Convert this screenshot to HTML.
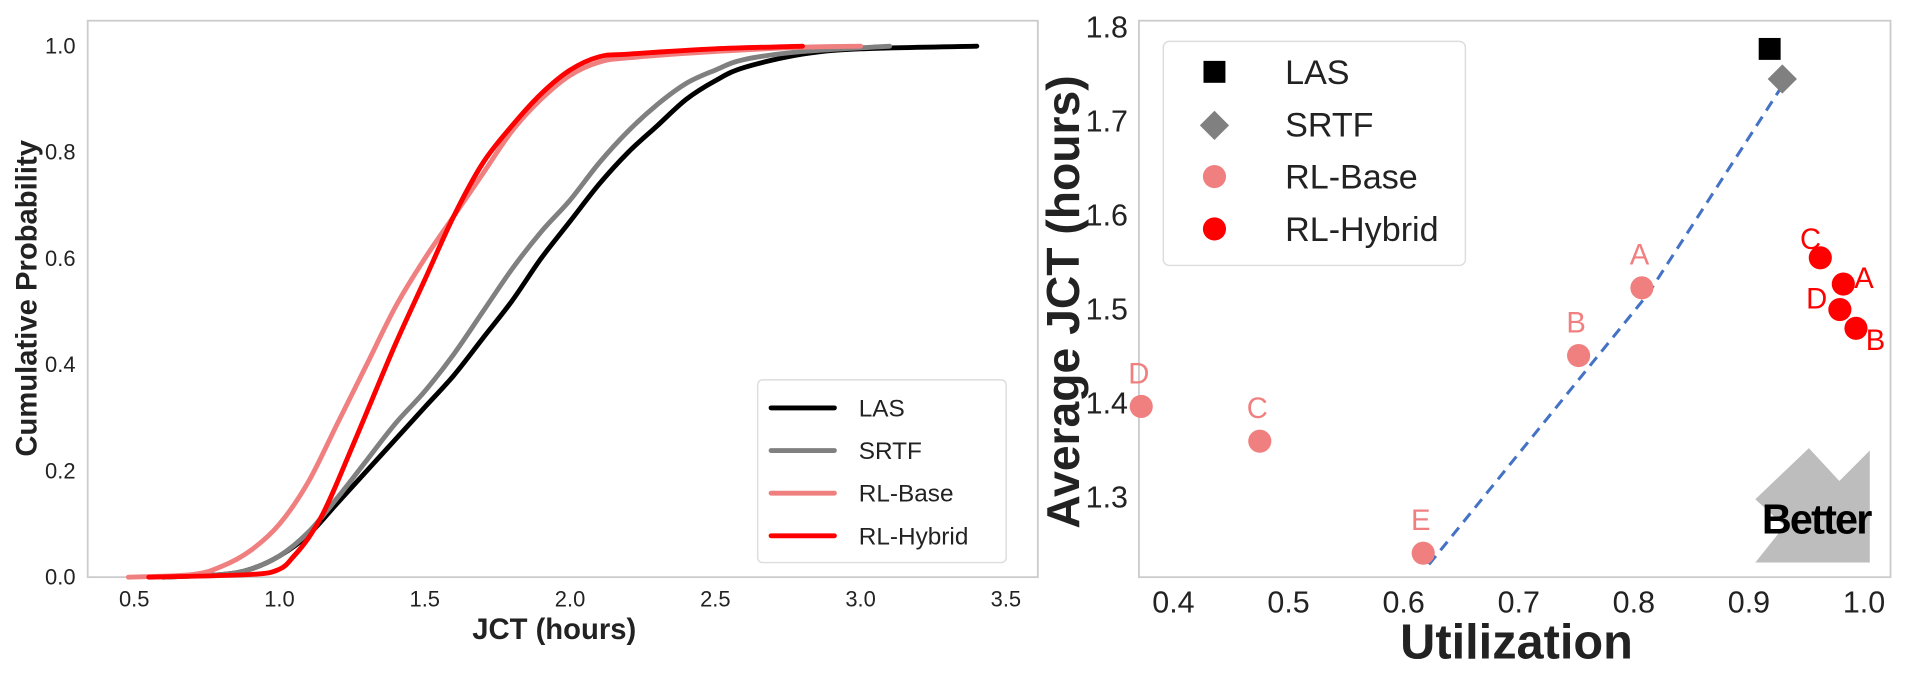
<!DOCTYPE html>
<html><head><meta charset="utf-8"><style>
body{margin:0;background:#fff;}
svg{display:block;font-family:"Liberation Sans",sans-serif;}
</style></head><body>
<svg id="c" width="1910" height="677" viewBox="0 0 1568 556" preserveAspectRatio="none"></svg>
<script>
const cdfSeries=["LAS","SRTF","RL-Base","RL-Hybrid"];
const lasX=[0.6,0.8,0.9,1.0,1.1,1.2,1.3,1.4,1.5,1.6,1.7,1.8,1.9,2.0,2.1,2.2,2.3,2.4,2.5,2.6,2.8,3.0,3.4];
const lasY=[0,0.005,0.015,0.04,0.08,0.14,0.2,0.26,0.32,0.38,0.45,0.52,0.6,0.67,0.74,0.8,0.85,0.9,0.935,0.96,0.985,0.995,1.0];
const srtfX=[0.6,0.8,0.9,1.0,1.1,1.2,1.3,1.4,1.5,1.6,1.7,1.8,1.9,2.0,2.1,2.2,2.3,2.4,2.5,2.6,2.8,3.1];
const srtfY=[0,0.005,0.015,0.04,0.085,0.15,0.22,0.29,0.35,0.42,0.5,0.58,0.65,0.71,0.78,0.84,0.89,0.93,0.955,0.975,0.99,1.0];
const baseX=[0.48,0.7,0.8,0.9,1.0,1.1,1.2,1.3,1.4,1.5,1.6,1.7,1.8,1.9,2.0,2.1,2.2,2.5,2.8,3.0];
const baseY=[0,0.005,0.02,0.05,0.1,0.18,0.29,0.4,0.51,0.6,0.68,0.76,0.84,0.9,0.945,0.97,0.978,0.99,0.998,1.0];
const hybX=[0.55,0.9,1.0,1.05,1.1,1.15,1.2,1.3,1.4,1.5,1.6,1.7,1.8,1.9,2.0,2.1,2.2,2.5,2.8];
const hybY=[0,0.005,0.015,0.04,0.074,0.12,0.18,0.31,0.44,0.56,0.68,0.78,0.85,0.91,0.955,0.98,0.985,0.995,1.0];
const cdfXTicks=[0.5,1.0,1.5,2.0,2.5,3.0,3.5];
const cdfYTicks=[0.0,0.2,0.4,0.6,0.8,1.0];
const sc={LAS:[[0.918,1.776]],SRTF:[[0.929,1.744]]};
const baseU=[0.372,0.475,0.617,0.752,0.807];
const baseJ=[1.396,1.359,1.240,1.450,1.522];
const baseL=["D","C","E","B","A"];
const hybU=[0.962,0.982,0.979,0.993];
const hybJ=[1.554,1.526,1.499,1.479];
const hybL=["C","A","D","B"];
const frontU=[0.622,0.812,0.928];
const frontJ=[1.228,1.515,1.735];
const scXTicks=[0.4,0.5,0.6,0.7,0.8,0.9,1.0];
const scYTicks=[1.3,1.4,1.5,1.6,1.7,1.8];

const NS="http://www.w3.org/2000/svg";
const svg=document.getElementById('c');
function mk(tag,at,parent,txt){const e=document.createElementNS(NS,tag);for(const k in at)e.setAttribute(k,at[k]);if(txt!==undefined)e.textContent=txt;(parent||svg).appendChild(e);return e;}

const L={x0:72,x1:852,y0:17,y1:474,dx0:0.34,dx1:3.61,dy0:0,dy1:1.048};
const lx=v=>L.x0+(v-L.dx0)/(L.dx1-L.dx0)*(L.x1-L.x0);
const ly=v=>L.y1-(v-L.dy0)/(L.dy1-L.dy0)*(L.y1-L.y0);
let g=mk('g',{});

let r=mk('rect',{x:L.x0,y:L.y0,width:L.x1-L.x0,height:L.y1-L.y0,fill:'none',stroke:'#ccc','stroke-width':1.5},g);

cdfXTicks.forEach(t=>{const e=mk('text',{x:lx(t),y:498,'text-anchor':'middle','font-size':18,fill:'#222'},g,t.toFixed(1));
});
cdfYTicks.forEach(t=>{const e=mk('text',{x:62,y:ly(t)+6,'text-anchor':'end','font-size':18,fill:'#222'},g,t.toFixed(1));
});
let t1=mk('text',{x:455,y:525,'text-anchor':'middle','font-size':24,'font-weight':'bold',fill:'#222'},g,'JCT (hours)');

let t2=mk('text',{x:0,y:0,transform:'translate(30,245) rotate(-90)','text-anchor':'middle','font-size':24,'font-weight':'bold',fill:'#222'},g,'Cumulative Probability');

const cols=['#000','#808080','#f08080','#ff0000'];
const xs=[lasX,srtfX,baseX,hybX],ys=[lasY,srtfY,baseY,hybY];
function smooth(pts){let d='M'+pts[0][0]+','+pts[0][1];for(let i=0;i<pts.length-1;i++){const p0=pts[Math.max(0,i-1)],p1=pts[i],p2=pts[i+1],p3=pts[Math.min(pts.length-1,i+2)];
const c1=[p1[0]+(p2[0]-p0[0])/6,p1[1]+(p2[1]-p0[1])/6],c2=[p2[0]-(p3[0]-p1[0])/6,p2[1]-(p3[1]-p1[1])/6];d+=' C'+c1+' '+c2+' '+p2;}return d;}
[0,1,2,3].forEach(i=>{const pts=xs[i].map((v,j)=>[lx(v),ly(ys[i][j])]);
const p=mk('path',{d:smooth(pts),fill:'none',stroke:cols[i],'stroke-width':4,'stroke-linecap':'round','stroke-linejoin':'round'},g);
});
let lg=mk('g',{},g);
mk('rect',{x:622,y:312,width:204,height:150,rx:4,fill:'#fff',stroke:'#ddd','stroke-width':1.2},lg);
cdfSeries.forEach((s,i)=>{const y=335+i*35;
mk('line',{x1:633,x2:685,y1:y,y2:y,stroke:cols[i],'stroke-width':4,'stroke-linecap':'round'},lg);
const e=mk('text',{x:705,y:y+7,'font-size':20,fill:'#222'},lg,s);
});

const R={x0:935,x1:1552,y0:17,y1:474,dx0:0.370,dx1:1.023,dy0:1.2145,dy1:1.806};
const rx=v=>R.x0+(v-R.dx0)/(R.dx1-R.dx0)*(R.x1-R.x0);
const ry=v=>R.y1-(v-R.dy0)/(R.dy1-R.dy0)*(R.y1-R.y0);
let g2=mk('g',{});
let r2=mk('rect',{x:R.x0,y:R.y0,width:R.x1-R.x0,height:R.y1-R.y0,fill:'none',stroke:'#ccc','stroke-width':1.5},g2);

scXTicks.forEach(t=>{const e=mk('text',{x:rx(t),y:503,'text-anchor':'middle','font-size':25,fill:'#222'},g2,t.toFixed(1));
});
scYTicks.forEach(t=>{const e=mk('text',{x:926,y:ry(t)+9,'text-anchor':'end','font-size':25,fill:'#222'},g2,t.toFixed(1));
});
let t3=mk('text',{x:1245,y:541,'text-anchor':'middle','font-size':40,'font-weight':'bold',fill:'#222'},g2,'Utilization');

let t4=mk('text',{x:0,y:0,transform:'translate(886,248) rotate(-90)','text-anchor':'middle','font-size':38,'font-weight':'bold',fill:'#222'},g2,'Average JCT (hours)');

let ar=mk('g',{},g2);
mk('polygon',{points:'1441,462 1535,462 1535,370 1510,395 1485,368 1441,410 1465,432',fill:'#bdbdbd'},ar);
mk('text',{x:1491,y:438,'text-anchor':'middle','font-size':34,'font-weight':'bold',fill:'#000','letter-spacing':-1.5},ar,'Better');
let fl=mk('path',{d:'M'+frontU.map((u,i)=>rx(u)+','+ry(frontJ[i])).join(' L'),fill:'none',stroke:'#4472c4','stroke-width':2.5,'stroke-dasharray':'9,6'},g2);

baseU.forEach((u,i)=>{const c=mk('circle',{cx:rx(u),cy:ry(baseJ[i]),r:9.5,fill:'#f08080'},g2);

const e=mk('text',{x:rx(u)-2,y:ry(baseJ[i])-19,'text-anchor':'middle','font-size':24,fill:'#f08080'},g2,baseL[i]);
});
const hoff=[[-8,-15],[17,-5],[-19,-9],[16,10]];
hybU.forEach((u,i)=>{const c=mk('circle',{cx:rx(u),cy:ry(hybJ[i]),r:9.5,fill:'#ff0000'},g2);

const e=mk('text',{x:rx(u)+hoff[i][0],y:ry(hybJ[i])+hoff[i][1]+8,'text-anchor':'middle','font-size':24,fill:'#ff0000'},g2,hybL[i]);
});
const las=sc.LAS[0],sr=sc.SRTF[0];
let m1=mk('rect',{x:rx(las[0])-9,y:ry(las[1])-9,width:18,height:18,fill:'#000'},g2);

let m2=mk('polygon',{points:[[0,-12],[12,0],[0,12],[-12,0]].map(p=>(rx(sr[0])+p[0])+','+(ry(sr[1])+p[1])).join(' '),fill:'#808080'},g2);

let lg2=mk('g',{},g2);
mk('rect',{x:955,y:34,width:248,height:184,rx:5,fill:'#fff',stroke:'#ddd','stroke-width':1.2},lg2);
const ly2=[59,102,145,188];
mk('rect',{x:988,y:50,width:18,height:18,fill:'#000'},lg2);
mk('polygon',{points:'997,91 1009,103 997,115 985,103',fill:'#808080'},lg2);
mk('circle',{cx:997,cy:145,r:9.5,fill:'#f08080'},lg2);
mk('circle',{cx:997,cy:188,r:9.5,fill:'#ff0000'},lg2);
["LAS","SRTF","RL-Base","RL-Hybrid"].forEach((s,i)=>{const e=mk('text',{x:1055,y:ly2[i]+10,'font-size':28,fill:'#222'},lg2,s);
});
</script>
</body></html>
